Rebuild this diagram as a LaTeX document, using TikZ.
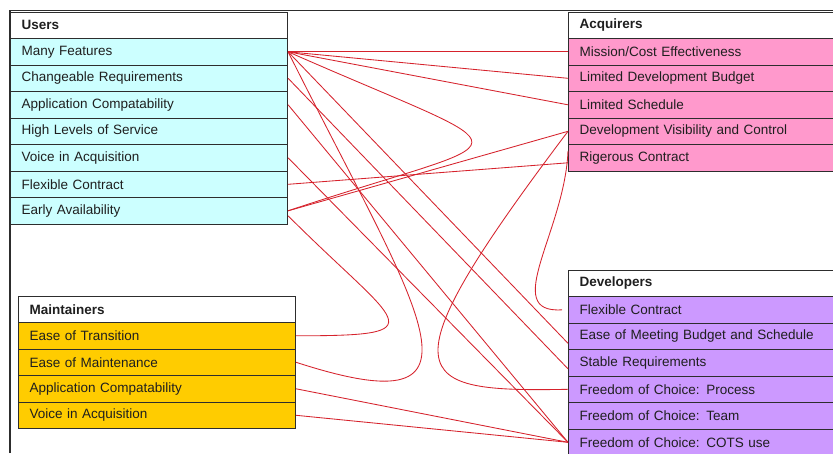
\documentclass[tikz,border=0pt]{standalone}
\usepackage{fontspec}
\setmainfont{Liberation Sans}
\definecolor{ucol}{RGB}{204,255,255}
\definecolor{acol}{RGB}{255,153,204}
\definecolor{mcol}{RGB}{255,204,0}
\definecolor{dcol}{RGB}{204,153,255}
\definecolor{lcol}{RGB}{214,34,44}
\definecolor{bcol}{RGB}{45,45,45}
\begin{document}
\begin{tikzpicture}[x=1pt,y=-1pt,
  cell/.style={draw=bcol, line width=1.1pt, rectangle, anchor=north west,
    inner xsep=11pt, inner ysep=0pt, minimum height=26.5pt, align=left,
    font=\fontsize{13.5}{16}\selectfont, text=black!88},
  lcell/.style={cell, text width=255pt},
  rcell/.style={cell, text width=268pt},
  hdr/.style={fill=white, font=\fontsize{13.5}{16}\selectfont\bfseries},
  urow/.style={lcell, fill=ucol},
  mrow/.style={lcell, fill=mcol},
  arow/.style={rcell, fill=acol},
  drow/.style={rcell, fill=dcol},
  conn/.style={draw=lcol, line width=0.85pt},
  frame/.style={draw=bcol, line width=1.1pt}]
\useasboundingbox (0,0) rectangle (833,453);
\clip (0,0) rectangle (833,453);
\fill[white] (0,0) rectangle (833,453);
\draw[frame] (10,453) -- (10,10.5) -- (833,10.5);
% Users
\node[lcell,hdr] (uh) at (10,11.5) {Users};
\node[urow] (u1) at (10,38) {Many Features};
\node[urow] (u2) at (10,64.5) {Changeable Requirements};
\node[urow] (u3) at (10,91) {Application Compatability};
\node[urow] (u4) at (10,117.5) {High Levels of Service};
\node[urow] (u5) at (10,144) {Voice in Acquisition};
\node[urow] (u6) at (10,170.5) {Flexible Contract};
\node[urow] (u7) at (10,197) {Early Availability};
% Acquirers
\node[rcell,hdr] (ah) at (568,11.5) {Acquirers};
\node[arow] (a1) at (568,38) {Mission/Cost Effectiveness};
\node[arow] (a2) at (568,64.5) {Limited Development Budget};
\node[arow] (a3) at (568,91) {Limited Schedule};
\node[arow] (a4) at (568,117.5) {Development Visibility and Control};
\node[arow] (a5) at (568,144) {Rigerous Contract};
% Maintainers
\node[lcell,hdr] (mh) at (18,295.5) {Maintainers};
\node[mrow] (m1) at (18,322) {Ease of Transition};
\node[mrow] (m2) at (18,348.5) {Ease of Maintenance};
\node[mrow] (m3) at (18,375) {Application Compatability};
\node[mrow] (m4) at (18,401.5) {Voice in Acquisition};
% Developers
\node[rcell,hdr] (dh) at (568,269.5) {Developers};
\node[drow] (d1) at (568,296) {Flexible Contract};
\node[drow] (d2) at (568,322.5) {Ease of Meeting Budget and Schedule};
\node[drow] (d3) at (568,349) {Stable Requirements};
\node[drow] (d4) at (568,375.5) {Freedom of Choice: Process};
\node[drow] (d5) at (568,402) {Freedom of Choice: Team};
\node[drow] (d6) at (568,428.5) {Freedom of Choice: COTS use};
% connectors
\draw[conn] (u1.east) -- (a1.west);
\draw[conn] (u1.east) -- (a2.west);
\draw[conn] (u1.east) -- (a3.west);
\draw[conn] (u1.east) .. controls +(250,110) and +(240,-80) .. (u7.east);
\draw[conn] (u1.east) -- ([yshift=-7pt]d2.west);
\draw[conn] (u1.east) .. controls +(130,260) and +(210,68) .. (m2.east);
\draw[conn] (u2.east) -- ([yshift=-6pt]d3.west);
\draw[conn] (u3.east) -- (d6.west);
\draw[conn] (u5.east) -- (d6.west);
\draw[conn] (u6.east) -- ([yshift=-5pt]a5.west);
\draw[conn] (u7.east) -- (a4.west);
\draw[conn] ([yshift=-5pt]u7.east) .. controls +(110,110) and +(145,0) .. (m1.east);
\draw[conn] (a4.west) .. controls +(-188,249) and +(-158,3) .. (d4.west);
\draw[conn] ([yshift=7pt]a5.west) .. controls +(-3,80) and +(-62,4) .. ([xshift=-6pt]d1.west);
\draw[conn] (m3.east) -- (d6.west);
\draw[conn] (m4.east) -- (d6.west);
\end{tikzpicture}
\end{document}
